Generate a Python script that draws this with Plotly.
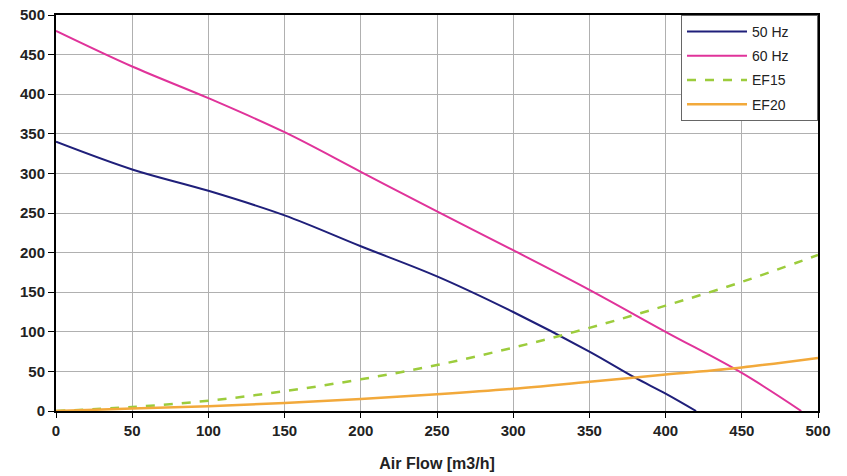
import plotly.graph_objects as go

x_50 = [0, 50, 100, 150, 200, 250, 300, 350, 380, 400, 420]
y_50 = [340, 305, 278, 247, 208, 170, 125, 75, 42, 22, 0]

x_60 = [0, 50, 100, 150, 200, 250, 300, 350, 400, 450, 489]
y_60 = [480, 435, 395, 352, 302, 252, 203, 153, 100, 48, 0]

x_ef = [0, 50, 100, 150, 200, 250, 300, 350, 400, 450, 500]
y_ef15 = [0, 5, 13, 25, 40, 58, 80, 105, 133, 163, 197]
y_ef20 = [0, 3, 6, 10, 15, 21, 28, 37, 46, 55, 67]

names = ["50 Hz", "60 Hz", "EF15", "EF20"]
pad = "\u00a0" * 6

font = "Liberation Sans, Arial, sans-serif"

fig = go.Figure()
fig.add_trace(go.Scatter(x=x_50, y=y_50, mode="lines", name=names[0] + pad, legendgroup="a",
                         line=dict(color="#1f1f7a", width=2, shape="spline")))
fig.add_trace(go.Scatter(x=x_60, y=y_60, mode="lines", name=names[1] + pad, legendgroup="b",
                         line=dict(color="#e0339a", width=2, shape="spline")))
fig.add_trace(go.Scatter(x=x_ef, y=y_ef15, mode="lines", name=names[2] + pad, legendgroup="c",
                         line=dict(color="#9ccc3c", width=2.5, dash="dash", shape="spline")))
fig.add_trace(go.Scatter(x=x_ef, y=y_ef20, mode="lines", name=names[3] + pad, legendgroup="d",
                         line=dict(color="#f2a93b", width=2.5, shape="spline")))

fig.update_layout(
    width=847, height=476,
    margin=dict(l=56, r=29, t=15, b=65),
    paper_bgcolor="white", plot_bgcolor="white",
    font=dict(family=font, size=14, color="#222"),
    showlegend=True,
    legend=dict(x=1, y=1, xanchor="right", yanchor="top",
                bgcolor="white", bordercolor="#666", borderwidth=1,
                font=dict(family=font, size=14, color="#222"),
                tracegroupgap=3, itemwidth=60),
)
fig.update_xaxes(range=[0, 500], tickvals=list(range(0, 501, 50)),
                 showgrid=True, gridcolor="#b0b0b0", gridwidth=1,
                 showline=True, linecolor="black", linewidth=2, mirror=True,
                 ticks="outside", ticklen=5, tickcolor="black", automargin=False,
                 tickfont=dict(family=font, size=15, color="#222", weight="bold"),
                 title=dict(text="<b>Air Flow [m3/h]</b>", font=dict(family=font, size=16, color="#222"), standoff=20),
                 zeroline=False)
fig.update_yaxes(range=[0, 500], tickvals=list(range(0, 501, 50)),
                 showgrid=True, gridcolor="#b0b0b0", gridwidth=1,
                 showline=True, linecolor="black", linewidth=2, mirror=True,
                 ticks="outside", ticklen=6, tickcolor="black", automargin=False,
                 tickfont=dict(family=font, size=15, color="#222", weight="bold"),
                 zeroline=False)

fig.write_html("out.html", config={"displayModeBar": False},
               post_script="document.body.style.margin='0';")
